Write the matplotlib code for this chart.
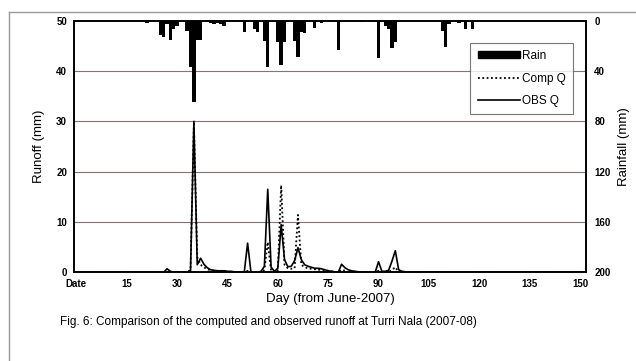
import matplotlib
matplotlib.use("Agg")
import matplotlib.pyplot as plt
import numpy as np
from matplotlib.lines import Line2D
from matplotlib.patches import Patch

plt.rcParams["font.family"] = ["Liberation Sans Narrow", "Liberation Sans", "DejaVu Sans"]

# Day index 0..152 (June 1 to Oct 31, 2007)
n_days = 153

# Rainfall (mm), days with rain only
rain_days = [21, 25, 26, 27, 28, 29, 30, 33, 34, 35, 36, 37, 39, 40, 41, 42, 43, 44,
             50, 53, 54, 56, 57, 59, 60, 61, 62, 65, 66, 67, 68, 71, 73,
             78, 85, 90, 92, 93, 94, 95, 109, 110, 111, 114, 116, 118]
rain_mm = [2, 11, 13, 3, 15, 7, 4, 8, 37, 65, 15, 15, 1, 2, 3, 2, 3, 4,
           9, 7, 9, 16, 37, 1, 17, 35, 17, 16, 29, 9, 10, 6, 2,
           23, 1, 30, 4, 7, 22, 17, 8, 21, 3, 2, 7, 7]

# Observed runoff (mm), non-zero days
obs_days = [27, 28, 34, 35, 36, 37, 38, 39, 40, 41, 42, 43, 44, 45, 46, 47,
            51, 55, 56, 57, 58, 59, 60, 61, 62, 63, 64, 65, 66, 67, 68, 69, 70,
            71, 72, 73, 74, 75, 76, 77, 79, 80, 81, 82, 83, 84,
            90, 91, 92, 93, 94, 95, 96, 97, 98]
obs_q = [0.7, 0.2, 0.3, 30, 1.5, 2.8, 1.6, 0.9, 0.5, 0.4, 0.3, 0.3, 0.3, 0.2, 0.2, 0.1,
         5.8, 0.2, 1.2, 16.5, 1.0, 0.2, 0.8, 9.5, 2.5, 1.1, 1.2, 2.3, 4.9, 2.5, 1.5, 1.2, 1.0,
         0.8, 0.8, 0.7, 0.5, 0.3, 0.2, 0.1, 1.6, 0.9, 0.5, 0.3, 0.2, 0.1,
         2.1, 0.2, 0.2, 0.4, 2.2, 4.3, 0.5, 0.2, 0.1]

# Computed runoff (mm), non-zero days
comp_days = [28, 30, 32, 34, 35, 36, 37, 38, 39, 40, 41, 42, 43, 44, 45,
             51, 56, 57, 58, 60, 61, 62, 63, 64, 65, 66, 67, 68, 69, 70,
             71, 72, 73, 74, 75, 76, 79, 80, 90, 94, 95]
comp_q = [0.1, 0.1, 0.1, 0.5, 29.5, 3.0, 1.5, 1.0, 0.6, 0.4, 0.3, 0.3, 0.2, 0.2, 0.1,
          0.3, 0.5, 6.0, 0.3, 0.4, 17.3, 1.5, 0.8, 0.7, 0.8, 11.4, 1.5, 1.0, 0.8, 0.7,
          0.6, 0.5, 0.5, 0.4, 0.3, 0.2, 0.5, 0.3, 0.3, 0.5, 1.0]

tick_pos = [0, 15, 30, 45, 60, 75, 90, 105, 120, 135, 150]
tick_lab = ["Date", "15", "30", "45", "60", "75", "90", "105", "120", "135", "150"]

days = np.arange(n_days)
rain = np.zeros(n_days)
rain[rain_days] = rain_mm
obs = np.zeros(n_days)
obs[obs_days] = obs_q
comp = np.zeros(n_days)
comp[comp_days] = comp_q

fig = plt.figure(figsize=(6.36, 3.61), dpi=100)
ax = fig.add_axes([0.1164, 0.2457, 0.805, 0.697])

grid_col = "#857272"
for v in [10, 20, 30, 40]:
    ax.axhline(v, color=grid_col, lw=0.8, zorder=0)

dots = (0, (1, 1.4))
ax.plot(days, comp, color="black", lw=1.3, ls=dots, zorder=3)
ax.plot(days, obs, color="black", lw=1.2, zorder=4)

ax.set_xlim(-0.7, 151.8)
ax.set_ylim(0, 50)
ax.set_yticks([0, 10, 20, 30, 40, 50])
ax.set_xticks(tick_pos)
ax.set_xticklabels(tick_lab)
ax.tick_params(axis="both", length=0, labelsize=7, pad=5)
for lab in ax.get_xticklabels() + ax.get_yticklabels():
    lab.set_fontweight("bold")
ax.set_ylabel("Runoff (mm)", fontsize=9.5, labelpad=8)
ax.set_xlabel("Day (from June-2007)", fontsize=9.5, labelpad=3)
for s in ax.spines.values():
    s.set_linewidth(1.2)

ax2 = ax.twinx()
ax2.bar(days, rain, width=1.0, color="black", zorder=2)
ax2.set_ylim(200, 0)
ax2.set_yticks([0, 40, 80, 120, 160, 200])
ax2.tick_params(axis="y", length=0, labelsize=7, pad=6)
for lab in ax2.get_yticklabels():
    lab.set_fontweight("bold")
ax2.set_ylabel("Rainfall (mm)", fontsize=9.5, labelpad=5)
for s in ax2.spines.values():
    s.set_linewidth(1.2)

handles = [Patch(facecolor="black", edgecolor="black"),
           Line2D([0], [0], color="black", lw=1.3, ls=dots),
           Line2D([0], [0], color="black", lw=1.2)]
leg = ax2.legend(handles, ["Rain", "Comp Q", "OBS Q"], loc="upper right",
                 bbox_to_anchor=(0.975, 0.912), fontsize=8.5, frameon=True,
                 fancybox=False, edgecolor="#555555", handlelength=3.6,
                 handleheight=0.6, handletextpad=0.2, labelspacing=0.9,
                 borderpad=0.6, borderaxespad=0)
leg.get_frame().set_linewidth(0.8)

# outer chart border
fig.add_artist(Line2D([9 / 636, 9 / 636], [0, 1 - 12 / 361], color="#999999", lw=1.0))
fig.add_artist(Line2D([9 / 636, 1], [1 - 12 / 361, 1 - 12 / 361], color="#999999", lw=1.0))

fig.text(0.094, 1 - 322 / 361, "Fig. 6: Comparison of the computed and observed runoff at Turri Nala (2007-08)",
         fontsize=8.5, va="center", ha="left")

fig.savefig("out.png", dpi=100)
